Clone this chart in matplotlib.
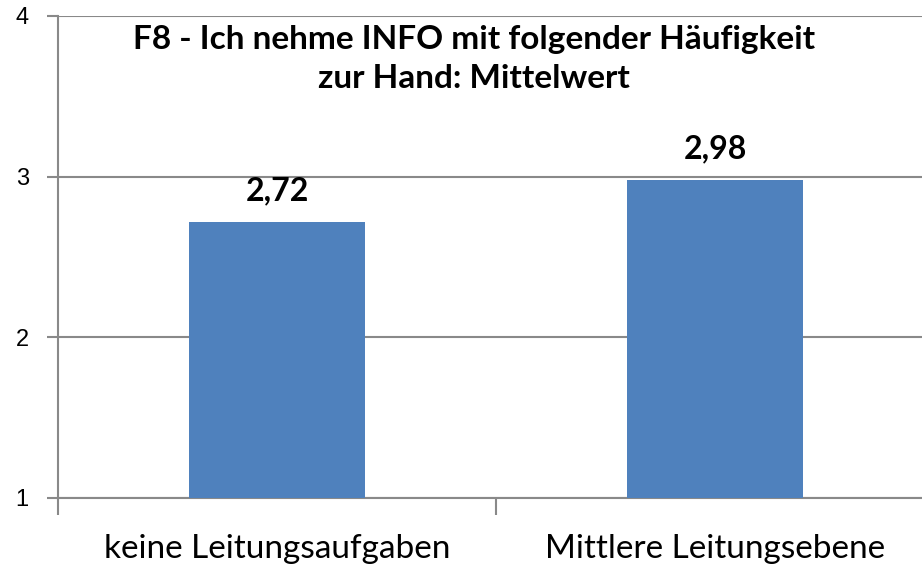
import matplotlib.pyplot as plt
import numpy as np

# Daten
kategorien = ['keine Leitungsaufgaben', 'Mittlere Leitungsebene']
mittelwerte = [2.72, 2.98]
y_ticks = [1, 2, 3, 4]
titel = 'F8 - Ich nehme INFO mit folgender Häufigkeit\nzur Hand: Mittelwert'

grau = '#898989'
blau = '#4F81BD'

fig = plt.figure(figsize=(9.22, 5.66), dpi=100)
ax = fig.add_axes([58 / 922, 68 / 566, 876 / 922, 482 / 566])

x = np.arange(len(kategorien))
ax.bar(x, [m - 1 for m in mittelwerte], bottom=1, width=0.404, color=blau, zorder=3)

ax.set_xlim(-0.5, 1.5)
ax.set_ylim(1, 4)
ax.set_yticks(y_ticks)
ax.set_yticklabels([str(t) for t in y_ticks], family='Liberation Sans', fontsize=17)
ax.grid(axis='y', color=grau, linewidth=1.5, zorder=0)
ax.set_xticks([])
ax.set_xticks([-0.5, 0.5, 1.5], minor=True)
ax.tick_params(axis='x', which='minor', length=12, width=1.5, color=grau, direction='out')
ax.tick_params(axis='y', length=8, width=1.5, color=grau, pad=13)

for spine in ['top', 'right']:
    ax.spines[spine].set_visible(False)
ax.spines['left'].set_color(grau)
ax.spines['left'].set_linewidth(1.5)
ax.spines['bottom'].set_color(grau)
ax.spines['bottom'].set_linewidth(1.5)

for xi, name in zip(x, kategorien):
    ax.text(xi, -0.105, name, transform=ax.get_xaxis_transform(), ha='center', va='center',
            fontsize=24, family='Lato')

for xi, m in zip(x, mittelwerte):
    ax.annotate(f'{m:.2f}'.replace('.', ','), (xi, m), xytext=(0, 12), textcoords='offset points',
                ha='center', va='bottom', fontsize=23, fontweight='bold', family='Lato')

fig.text(474 / 922, 1 - 59 / 566, titel, ha='center', va='center', fontsize=24,
         fontweight='bold', family='Lato', linespacing=1.45)

fig.savefig('out.png', dpi=100)
